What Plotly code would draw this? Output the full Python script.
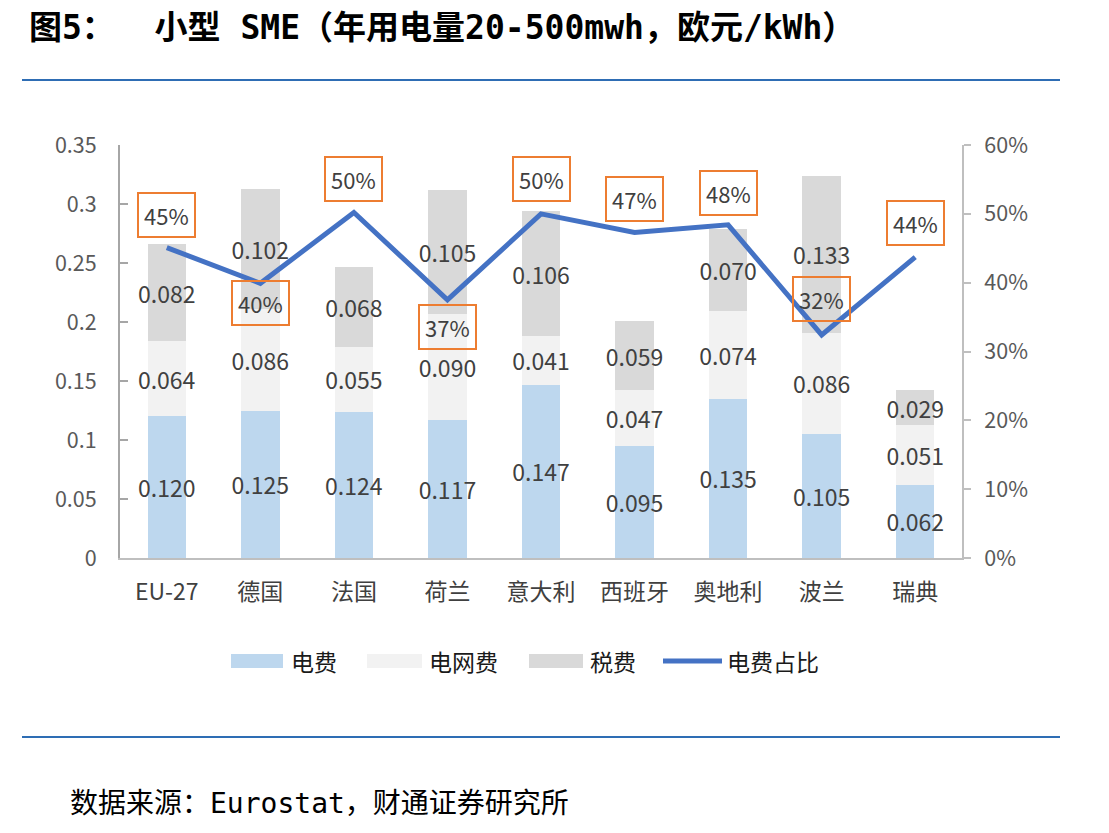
import plotly.graph_objects as go

categories = ["EU-27", "德国", "法国", "荷兰", "意大利", "西班牙", "奥地利", "波兰", "瑞典"]
energy = [0.120, 0.125, 0.124, 0.117, 0.147, 0.095, 0.135, 0.105, 0.062]
network = [0.064, 0.086, 0.055, 0.090, 0.041, 0.047, 0.074, 0.086, 0.051]
taxes = [0.082, 0.102, 0.068, 0.105, 0.106, 0.059, 0.070, 0.133, 0.029]
energy_share = [0.451, 0.399, 0.502, 0.375, 0.500, 0.473, 0.484, 0.324, 0.437]
share_labels = ["45%", "40%", "50%", "37%", "50%", "47%", "48%", "32%", "44%"]
series_names = ["电费", "电网费", "税费", "电费占比"]

# style: pixel offsets of the share label boxes relative to the line points
label_dy = [-33, 20, -33, 27, -35, -33, -32, -36, -34]
bar_colors = ["#BDD7EE", "#F2F2F2", "#D9D9D9"]
line_color = "#4472C4"

FONT = "Noto Sans CJK SC"
TXT = "#404040"

L, R, T, B = 120, 147, 145, 275
PW, PH = 1109 - L - R, 833 - T - B

def px(x):
    return (x - L) / PW

def py(y):
    return (833 - B - y) / PH

fig = go.Figure()
for name, vals, col in zip(series_names[:3], [energy, network, taxes], bar_colors):
    fig.add_trace(go.Bar(
        x=categories, y=vals, name=name, marker=dict(color=col, line=dict(width=0)),
        text=[f"{v:.3f}" for v in vals], textposition="inside", insidetextanchor="middle",
        constraintext="none", textangle=0,
        textfont=dict(family=FONT, size=23, color=TXT),
        yaxis="y", cliponaxis=False, showlegend=False,
    ))

fig.add_trace(go.Scatter(
    x=categories, y=energy_share, name=series_names[3], mode="lines",
    line=dict(color=line_color, width=5), yaxis="y2", showlegend=False,
))

for c, v, t, dy in zip(categories, energy_share, share_labels, label_dy):
    fig.add_annotation(
        x=c, y=v, xref="x", yref="y2", text=t, showarrow=True,
        arrowcolor="rgba(0,0,0,0)", arrowwidth=0.1, ax=0, ay=dy,
        font=dict(family=FONT, size=22, color=TXT),
        bordercolor="#ED7D31", borderwidth=2, borderpad=5, bgcolor="rgba(0,0,0,0)",
    )

# custom legend (wide swatches as in the reference)
leg_y = 661
leg_items = [(231, 283, 289), (367, 422, 427), (529, 583, 588), (663, 722, 725)]
for i, (s0, s1, tx) in enumerate(leg_items):
    if i < 3:
        fig.add_shape(type="rect", xref="paper", yref="paper", x0=px(s0), x1=px(s1),
                      y0=py(leg_y + 7), y1=py(leg_y - 7), line=dict(width=0),
                      fillcolor=bar_colors[i])
    else:
        fig.add_shape(type="line", xref="paper", yref="paper", x0=px(s0), x1=px(s1),
                      y0=py(leg_y), y1=py(leg_y), line=dict(color=line_color, width=5))
    fig.add_annotation(x=px(tx), y=py(leg_y), xref="paper", yref="paper", xanchor="left",
                       yanchor="middle", text=series_names[i], showarrow=False,
                       font=dict(family=FONT, size=23, color="#1a1a1a"))

TITLE_FONT = "DejaVu Sans Mono, Noto Sans CJK SC"
fig.add_annotation(
    x=px(27), y=py(28), xref="paper", yref="paper", xanchor="left", yanchor="middle",
    text="<b>图5：  小型 SME（年用电量20-500mwh，欧元/kWh）</b>", showarrow=False,
    font=dict(family=TITLE_FONT, size=33, color="#000000"),
)
fig.add_annotation(
    x=px(68), y=py(803), xref="paper", yref="paper", xanchor="left", yanchor="middle",
    text="数据来源：Eurostat，财通证券研究所", showarrow=False,
    font=dict(family=TITLE_FONT, size=28, color="#000000"),
)
for yy in (80, 737):
    fig.add_shape(type="line", xref="paper", yref="paper", x0=px(22), x1=px(1060),
                  y0=py(yy), y1=py(yy), line=dict(color="#2E6DB4", width=2))

fig.update_layout(
    width=1109, height=833, barmode="stack", bargap=0.59,
    margin=dict(l=L, r=R, t=T, b=B, autoexpand=False),
    plot_bgcolor="white", paper_bgcolor="white",
    font=dict(family=FONT, color=TXT),
    showlegend=False,
    xaxis=dict(showline=True, linecolor="#BFBFBF", linewidth=2, ticks="", showgrid=False,
               tickfont=dict(family=FONT, size=23, color=TXT), ticklabelstandoff=12,
               range=[-0.5, 8.5]),
    yaxis=dict(range=[0, 0.35], dtick=0.05, showline=True, linecolor="#A6A6A6", linewidth=2,
               ticks="inside", ticklen=8, tickcolor="#A6A6A6", tickwidth=2, showgrid=False,
               zeroline=False, tickfont=dict(family=FONT, size=21.5, color="#595959"),
               ticklabelstandoff=17),
    yaxis2=dict(range=[0, 0.6], dtick=0.1, tickformat=".0%", overlaying="y", side="right",
                showline=True, linecolor="#BFBFBF", linewidth=2, ticks="outside", ticklen=7,
                tickcolor="#BFBFBF", tickwidth=2, showgrid=False, zeroline=False,
                tickfont=dict(family=FONT, size=21.5, color="#595959"), ticklabelstandoff=9),
)

fig.write_html("out.html")
